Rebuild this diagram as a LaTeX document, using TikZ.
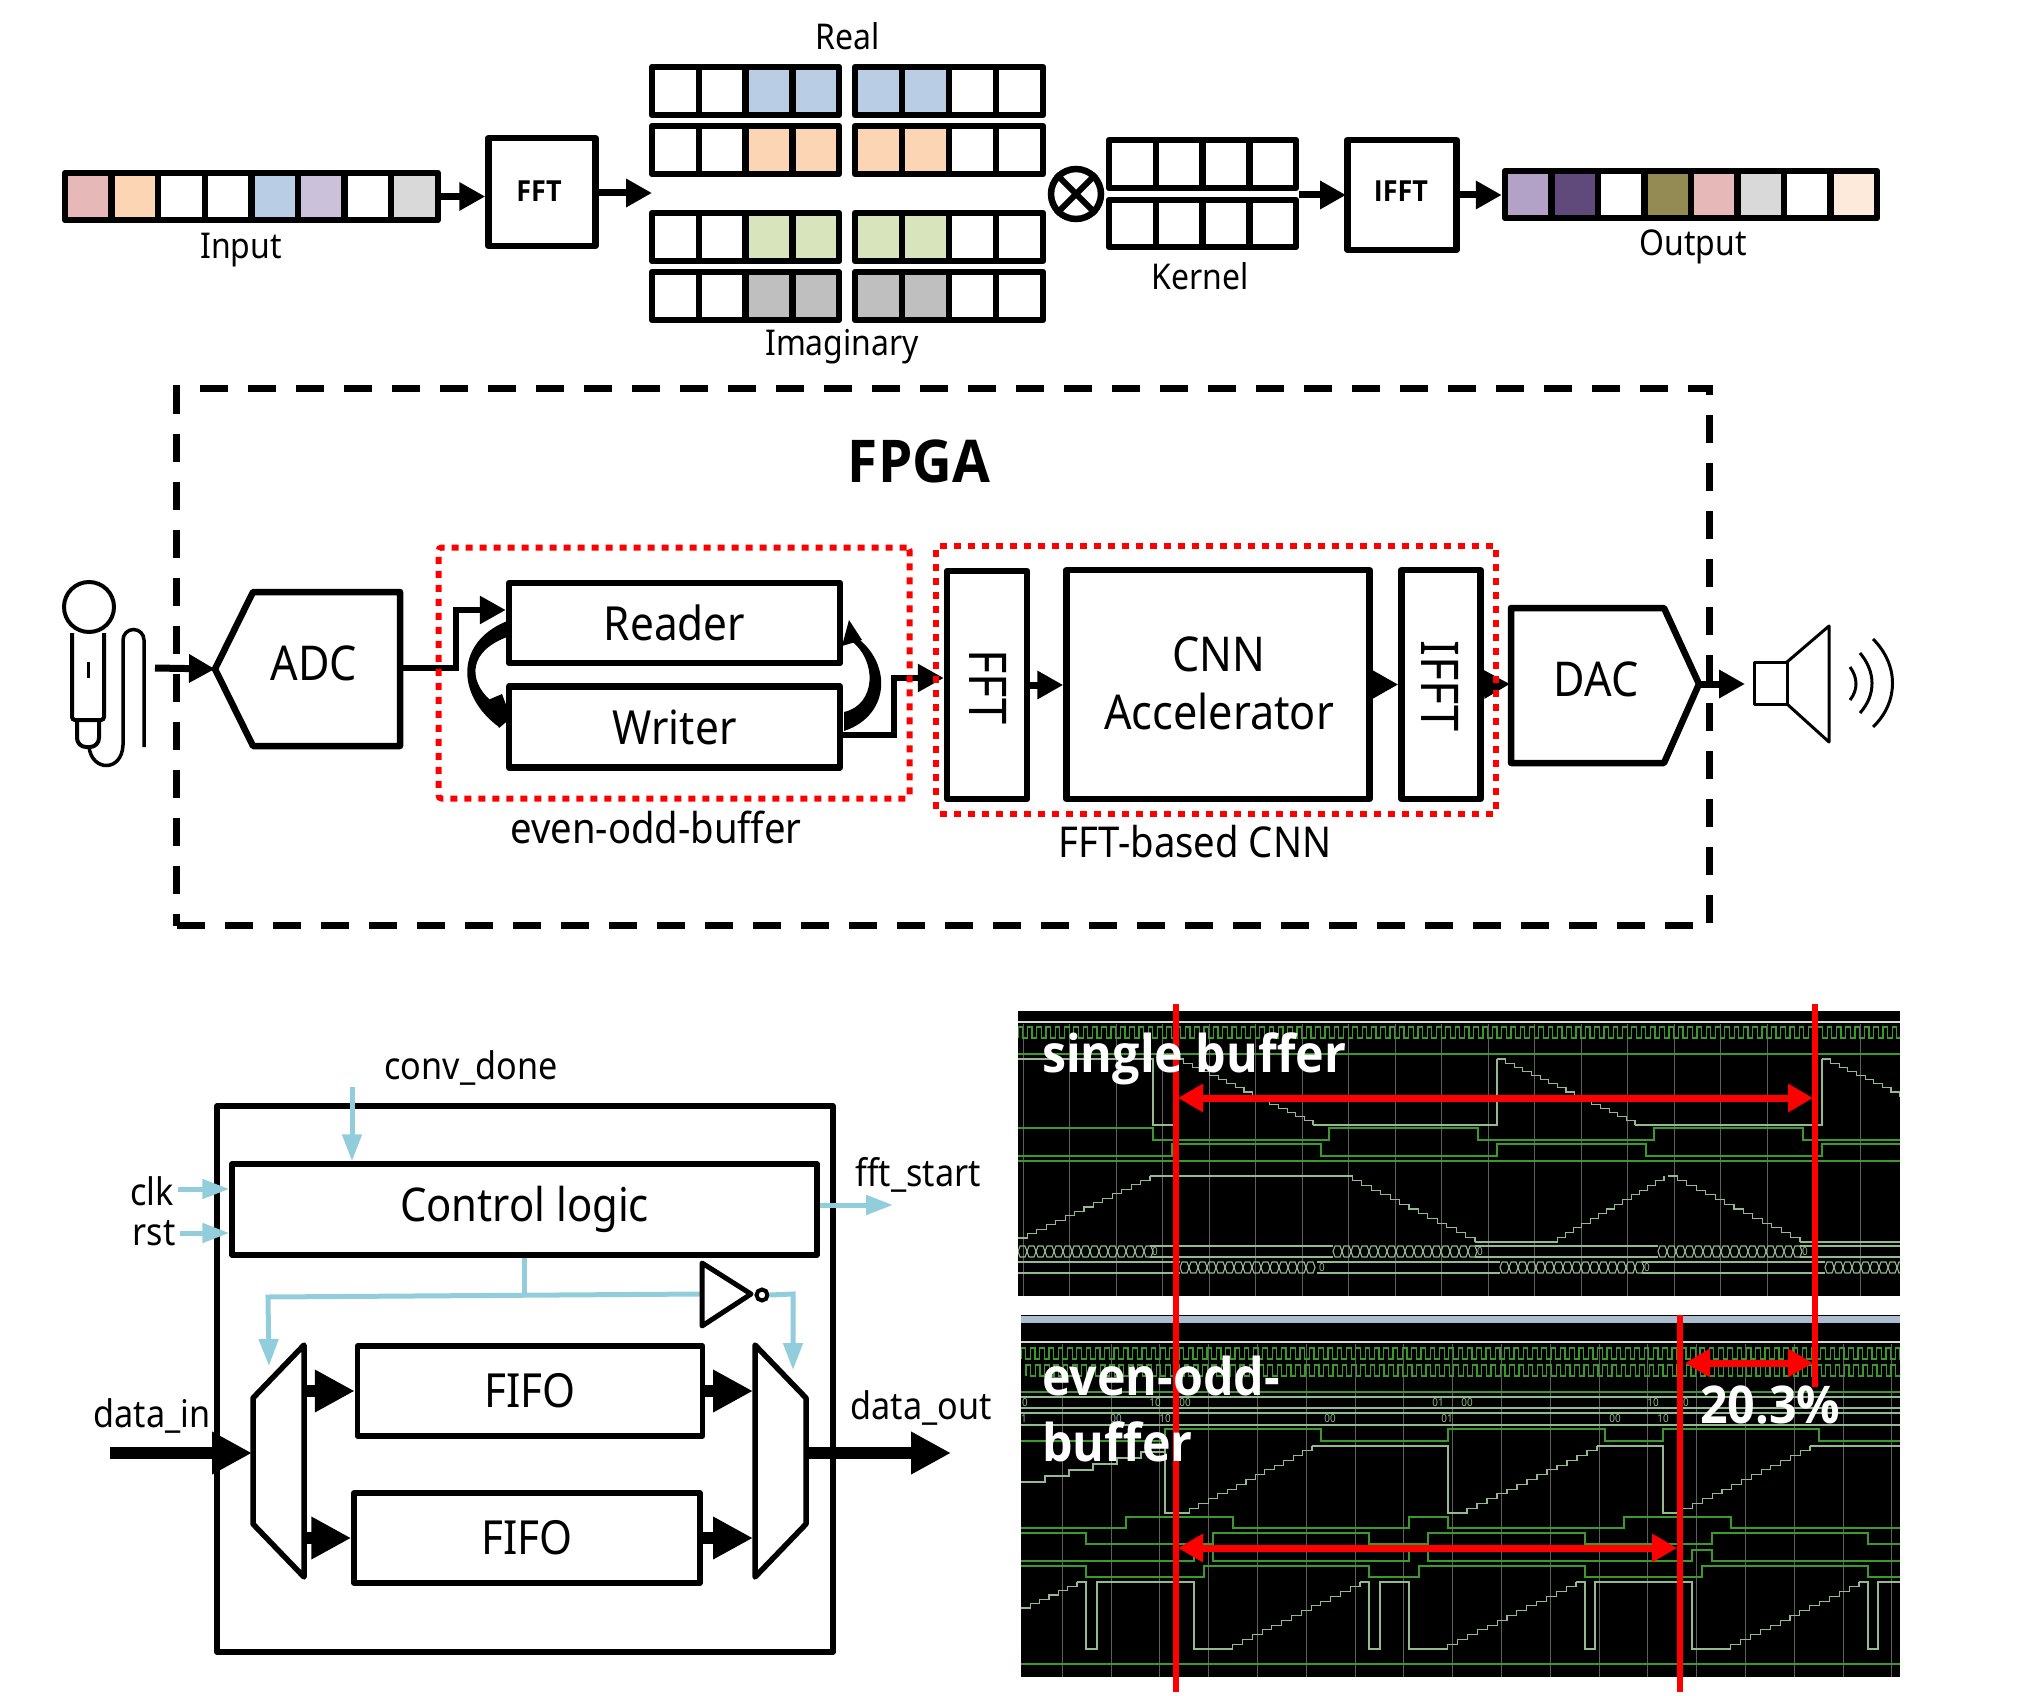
\documentclass[tikz,border=0pt]{standalone}
\usepackage{fontspec}
\setmainfont[FakeStretch=0.9]{Noto Sans}
\newfontfamily\heavyfont[FakeStretch=0.93]{Open Sans}
\usetikzlibrary{arrows.meta}

\definecolor{cpink}{HTML}{E6B8B7}
\definecolor{corange}{HTML}{FCD5B5}
\definecolor{cblue}{HTML}{B9CDE5}
\definecolor{cpurple}{HTML}{CCC1DA}
\definecolor{cgray}{HTML}{D9D9D9}
\definecolor{cgreen}{HTML}{D7E4BC}
\definecolor{cdark}{HTML}{BFBFBF}
\definecolor{clav}{HTML}{B3A2C7}
\definecolor{cplum}{HTML}{604A7B}
\definecolor{colive}{HTML}{948A54}
\definecolor{cpeach}{HTML}{FDEADA}
\definecolor{ctrlblue}{HTML}{92CDDC}
\definecolor{wavegreen}{HTML}{3A9A2A}
\definecolor{wavepale}{HTML}{94BA90}
\definecolor{wavegrid}{HTML}{5E5E5E}

\tikzset{
    cell/.style={draw, line width=6.5pt, line join=round, minimum width=#1, inner sep=0pt},
    boxnode/.style={draw, line width=6.5pt, line join=round, inner sep=0pt, align=center},
    thinbox/.style={draw, line width=5.5pt, line join=round, inner sep=0pt, align=center},
    lbl/.style={inner sep=0pt, font=\fontsize{35.5}{40}\selectfont},
    wide/.style={inner sep=0pt, font=\fontsize{42.5}{48}\selectfont},
    port/.style={inner sep=0pt, font=\fontsize{38}{44}\selectfont},
    boxtxt/.style={inner sep=0pt, align=center, font=\fontsize{48}{58}\selectfont},
    fifotxt/.style={font=\fontsize{47}{50}\selectfont},
    fftbold/.style={inner sep=0pt, font=\heavyfont\bfseries\fontsize{29}{34}\selectfont},
    wavetxt/.style={inner sep=0pt, anchor=base west, text=white, font=\heavyfont\bfseries\fontsize{52}{60}\selectfont},
    bustxt/.style={inner sep=0pt, text=wavepale, font=\fontsize{11}{12}\selectfont},
    redbox/.style={draw=red, line width=6pt, dash pattern=on 7pt off 7pt, rounded corners=3pt, inner sep=0pt},
    sig/.style={->, line width=7pt, -{Triangle[length=26pt,width=27pt]}},
    fatsig/.style={line width=12pt, -{Triangle[length=40pt,width=40pt]}},
    ctrlsig/.style={draw=ctrlblue, line width=5pt, -{Triangle[length=27pt,width=19pt]}},
    redsig/.style={draw=red, line width=7pt, {Triangle[length=25pt,width=27pt]}-{Triangle[length=25pt,width=27pt]}},
    redline/.style={draw=red, line width=6.5pt},
    gwave/.style={draw=wavegreen, line width=1.2pt},
    pwave/.style={draw=wavepale, line width=1.1pt},
    gridline/.style={draw=wavegrid, line width=1.1pt}
}

% row of cells, name x0 y cell-width cell-height colors
\newcommand{\cellrow}[6]{
    \foreach \c [count=\i from 0] in {#6}
        \node[cell=#4pt, minimum height=#5pt, fill=\c] (#1-\i) at ({#2+(\i+0.5)*#4},#3) {};
}
% stairs x1 y1 x2 y2 steps
\newcommand{\stairs}[5]{
    \draw[pwave] (#1,#2) \foreach \k in {1,...,#5} {-- ++({(#3-#1)/#5},0) -- ++(0,{(#4-#2)/#5})};
}
% clock x1 ylow periods
\newcommand{\clockwave}[3]{
    \draw[gwave] (#1,#2) \foreach \k in {1,...,#3} {-- ++(0,-11) -- ++(4.65,0) -- ++(0,11) -- ++(4.65,0)};
}
% bus cells x1 ytop ybot cells
\newcommand{\buscells}[4]{
    \foreach \k in {1,...,#4} {
        \draw[pwave] ({#1+(\k-1)*9},{(#2+#3)/2}) -- ({#1+(\k-1)*9+2},#2) -- ({#1+\k*9-2},#2) -- ({#1+\k*9},{(#2+#3)/2}) -- ({#1+\k*9-2},#3) -- ({#1+(\k-1)*9+2},#3) -- cycle;
    }
}

\begin{document}
\begin{tikzpicture}[x=1pt, y=-1pt]
        \useasboundingbox (0,0) rectangle (2037,1696);

        %top row
        \cellrow{input}{65}{196.5}{46.6}{47}{cpink,corange,white,white,cblue,cpurple,white,cgray}
        \node[boxnode, minimum width=107pt, minimum height=108pt] (fftA) at (542,192) {};
        \node[fftbold] (fftAtxt) at (539,191) {FFT};
        \cellrow{reA}{652}{91}{46.75}{48}{white,white,cblue,cblue}
        \cellrow{reB}{855}{91}{47}{48}{cblue,cblue,white,white}
        \cellrow{reC}{652}{150}{46.75}{48}{white,white,corange,corange}
        \cellrow{reD}{855}{150}{47}{48}{corange,corange,white,white}
        \cellrow{imA}{652}{237}{46.75}{48}{white,white,cgreen,cgreen}
        \cellrow{imB}{855}{237}{47}{48}{cgreen,cgreen,white,white}
        \cellrow{imC}{652}{296}{46.75}{48}{white,white,cdark,cdark}
        \cellrow{imD}{855}{296}{47}{48}{cdark,cdark,white,white}
        \node[circle, draw, line width=6.5pt, minimum size=50pt, inner sep=0pt] (mult) at (1076,194) {};
        \draw[line width=6pt] (mult.45) -- (mult.225);
        \draw[line width=6pt] (mult.135) -- (mult.315);
        \cellrow{kerA}{1109}{164}{46.75}{48}{white,white,white,white}
        \cellrow{kerB}{1109}{223.5}{46.75}{47}{white,white,white,white}
        \node[boxnode, minimum width=109pt, minimum height=110pt] (ifftA) at (1402,195) {};
        \node[fftbold] (ifftAtxt) at (1401,191) {IFFT};
        \cellrow{output}{1505}{194.5}{46.5}{47}{clav,cplum,white,colive,cpink,cgray,white,cpeach}

        \node[lbl] (realtxt) at (848,36) {Real};
        \node[lbl] (imagtxt) at (842,347) {Imaginary};
        \node[lbl] (inputtxt) at (241,250) {Input};
        \node[lbl] (outputtxt) at (1693,247) {Output};
        \node[lbl] (kerneltxt) at (1200,276) {Kernel};

        %top edges
        \coordinate (fftAout) at (652,193);
        \coordinate (kerout) at (1299,195);
        \coordinate (ifftAin) at (1346,195);
        \draw[sig] (input-7.east) -- (input-7.east -| fftA.west);
        \draw[sig] (fftAout -| fftA.east) -- (fftAout);
        \draw[sig] (kerout) -- (ifftAin);
        \draw[sig] (ifftAin -| ifftA.east) -- (ifftAin -| output-0.west);

        %fpga frame
        \node[draw, line width=6.5pt, dash pattern=on 28pt off 20pt, minimum width=1533pt, minimum height=537pt, inner sep=0pt] (fpga) at (943,657) {};
        \node[inner sep=0pt, font=\heavyfont\bfseries\fontsize{59}{60}\selectfont] (fpgatxt) at (919,461) {FPGA};

        %mic
        \node[circle, draw, line width=4pt, minimum size=50pt, inner sep=0pt] (mic) at (89,607) {};
        \draw[line width=4pt, rounded corners=3pt] (72,633) -- (72,720) -- (104,720) -- (104,633);
        \draw[line width=4pt, rounded corners=9pt] (77,720) -- (77,747) -- (99,747) -- (99,720);
        \draw[line width=3pt] (88,662) -- (88,678);
        \draw[line width=3.5pt] (89,747) .. controls (92,772) and (122,772) .. (123,745) -- (123,640) arc (180:360:10.5) -- (144,747);

        %speaker
        \coordinate (spkin) at (1745,684);
        \draw[line width=3pt, line join=round] (1754,662) rectangle (1787,704);
        \draw[line width=3pt, line join=round] (1787,662) -- (1829,626) -- (1829,742) -- (1787,704);
        \draw[line width=3pt] (1850,667) .. controls (1858,678) and (1858,690) .. (1850,700);
        \draw[line width=3pt] (1860,653) .. controls (1876,672) and (1876,695) .. (1860,713);
        \draw[line width=3pt] (1873,639) .. controls (1899,665) and (1899,702) .. (1873,727);

        %adc dac
        \coordinate (adcin) at (215,669);
        \coordinate (adcout) at (400,668);
        \draw[fill=white, line width=6.5pt, line join=round] (adcin) -- (253,592) -- (400,592) -- (400,746) -- (253,746) -- cycle;
        \node[boxtxt] (adctxt) at (314,663) {ADC};
        \coordinate (dacin) at (1510,684);
        \coordinate (dacout) at (1700,684);
        \draw[fill=white, line width=6.5pt, line join=round] (1511,608) -- (1664,608) -- (1699,684) -- (1664,763) -- (1511,763) -- cycle;
        \node[boxtxt] (dactxt) at (1596,679) {DAC};

        %buffer
        \node[boxnode, minimum width=331pt, minimum height=80pt, font=\fontsize{47}{58}\selectfont] (reader) at (674.5,623) {Reader};
        \node[boxnode, minimum width=331pt, minimum height=81pt, font=\fontsize{47}{58}\selectfont] (writer) at (674.5,727) {Writer};

        %fft cnn ifft
        \node[boxnode, minimum width=80pt, minimum height=228pt] (fftB) at (987,685) {};
        \node[boxtxt, rotate=-90, font=\fontsize{52}{58}\selectfont] (fftBtxt) at (988,687) {FFT};
        \node[boxnode, minimum width=303pt, minimum height=229pt] (cnn) at (1218,684.5) {};
        \node[boxtxt] (cnntxt) at (1219,683) {CNN\\Accelerator};
        \node[boxnode, minimum width=79pt, minimum height=229pt] (ifftB) at (1441,684.5) {};
        \node[boxtxt, rotate=-90, font=\fontsize{52}{58}\selectfont] (ifftBtxt) at (1440,686) {IFFT};

        %fpga edges
        \coordinate (micout) at (155,668);
        \coordinate (wrout) at (842,735);
        \coordinate (bufjog) at (894,678);
        \coordinate (rdjog) at (456,610);
        \draw[sig] (micout) -- (adcin);
        \draw[line width=6pt, -{Triangle[length=26pt,width=27pt]}] (adcout) -- (adcout -| rdjog) -- (rdjog) -- (rdjog -| reader.west);
        \draw[line width=6pt, -{Triangle[length=26pt,width=27pt]}] (wrout) -- (wrout -| bufjog) -- (bufjog) -- (bufjog -| fftB.west);
        \draw[sig] (fftB.east) -- (fftB.east -| cnn.west);
        \draw[sig] (cnn.east) -- (cnn.east -| ifftB.west);
        \draw[sig] (ifftB.east) -- (dacin);
        \draw[sig] (dacout) -- (spkin);

        %feedback curves
        \fill (510,620) .. controls (455,640) and (455,695) .. (499,727) -- (490,700) .. controls (468,680) and (468,650) .. (510,636) -- cycle;
        \fill (511,718) -- (499,728) -- (488,700) -- (502,694) -- cycle;
        \fill (844,731) .. controls (892,715) and (892,660) .. (853,635) -- (850,640) .. controls (878,660) and (876,705) .. (844,712) -- cycle;
        \fill (849,620) -- (842,646) -- (862,640) -- cycle;

        %red boxes
        \node[redbox, minimum width=471pt, minimum height=251pt] (evenodd) at (674,673) {};
        \node[redbox, minimum width=560pt, minimum height=268pt] (fftcnn) at (1216,680) {};
        \node[wide] (evenoddtxt) at (656,827) {even-odd-buffer};
        \node[wide] (fftcnntxt) at (1195,842) {FFT-based CNN};

        %fifo block
        \node[thinbox, minimum width=616pt, minimum height=546pt] (outer) at (525,1379) {};
        \node[thinbox, minimum width=585pt, minimum height=91pt, font=\fontsize{46.5}{50}\selectfont] (ctrl) at (524.5,1209.5) {Control logic};
        \node[thinbox, minimum width=345pt, minimum height=90pt, fifotxt] (fifoA) at (530,1391) {FIFO};
        \node[thinbox, minimum width=346pt, minimum height=90pt, fifotxt] (fifoB) at (527,1538) {FIFO};
        \draw[line width=5.5pt, line join=round, fill=white] (304,1345) -- (304,1577) -- (253,1524) -- (253,1398) -- cycle;
        \draw[line width=5.5pt, line join=round, fill=white] (755,1345) -- (755,1577) -- (806,1524) -- (806,1398) -- cycle;
        \coordinate (muxAin) at (252,1453);
        \coordinate (muxBout) at (808,1453);

        %fifo edges
        \coordinate (datain) at (110,1453);
        \coordinate (dataout) at (951,1453);
        \draw[fatsig] (datain) -- (muxAin);
        \draw[fatsig] (muxBout) -- (dataout);
        \draw[fatsig] (fifoA.west -| 306,0) -- (fifoA.west);
        \draw[fatsig] (fifoB.west -| 306,0) -- (fifoB.west);
        \draw[fatsig] (fifoA.east) -- (fifoA.east -| 753,0);
        \draw[fatsig] (fifoB.east) -- (fifoB.east -| 753,0);

        %control edges
        \coordinate (convin) at (352,1087);
        \coordinate (clkin) at (178,1189);
        \coordinate (rstin) at (180,1233);
        \coordinate (fftout) at (893,1205);
        \coordinate (busl) at (268,1297);
        \coordinate (busr) at (702,1294);
        \coordinate (muxAsel) at (269,1366);
        \coordinate (muxBsel) at (793,1370);
        \coordinate (invturn) at (793,1294);
        \draw[ctrlsig] (convin) -- (convin |- ctrl.north);
        \draw[ctrlsig] (clkin) -- (clkin -| ctrl.west);
        \draw[ctrlsig] (rstin) -- (rstin -| ctrl.west);
        \draw[ctrlsig] (fftout -| ctrl.east) -- (fftout);
        \draw[draw=ctrlblue, line width=5pt] (ctrl.south) -- (ctrl.south |- busr);
        \draw[ctrlsig] (busr) -- (busl) -- (muxAsel);
        \draw[black, line width=5pt, line join=round, fill=white] (702,1263) -- (702,1326) -- (751,1294) -- cycle;
        \node[circle, draw, line width=4pt, minimum size=11pt, inner sep=0pt] (invbub) at (762,1295) {};
        \draw[ctrlsig] (invbub.east) -- (invturn) -- (muxBsel);

        \node[port] (convtxt) at (471,1068) {conv\_done};
        \node[port] (clktxt) at (152,1191) {clk};
        \node[port] (rsttxt) at (154,1233) {rst};
        \node[port] (ffttxt) at (918,1175) {fft\_start};
        \node[port] (dinxt) at (152,1416) {data\_in};
        \node[port] (douttxt) at (921,1408) {data\_out};

        %wave panel single
        \begin{scope}
            \clip (1018,1011) rectangle (1900,1296);
            \fill[black] (1018,1011) rectangle (1900,1296);
            \draw[draw=white!85!black, line width=2pt] (1018,1022) -- (1900,1022);
            \foreach \n in {0,...,18}
                \draw[gridline] ({1023.3+46.5*\n},1024) -- ({1023.3+46.5*\n},1296);
            \clockwave{1018}{1038}{95}
            \draw[gwave] (1018,1054) -- (1900,1054);
            \draw[gwave] (1018,1161) -- (1900,1161);
            \draw[gwave] (1018,1128) -| (1153,1140) -| (1329,1128) -| (1478,1140) -| (1654,1128) -| (1803,1140) -- (1900,1140);
            \draw[gwave] (1018,1156) -| (1172,1144) -| (1321,1156) -| (1497,1144) -| (1646,1156) -| (1822,1144) -- (1900,1144);
            \draw[pwave] (1018,1059) -- (1153,1059) -- (1153,1125) -- (1175,1125) -- (1175,1059);
            \draw[pwave] (1313,1125) -- (1497,1125) -- (1497,1059);
            \draw[pwave] (1635,1125) -- (1822,1125) -- (1822,1059);
            \stairs{1175}{1059}{1313}{1125}{16}
            \stairs{1497}{1059}{1635}{1125}{16}
            \stairs{1822}{1059}{1960}{1125}{16}
            \stairs{1018}{1238}{1150}{1176}{14}
            \stairs{1343}{1176}{1475}{1242}{14}
            \stairs{1549}{1242}{1664}{1176}{14}
            \stairs{1668}{1176}{1800}{1242}{14}
            \draw[pwave] (1150,1176) -- (1343,1176);
            \draw[pwave] (1475,1242) -- (1549,1242);
            \draw[pwave] (1800,1242) -- (1900,1242);
            \foreach \a/\b in {1150/1333,1475/1658,1800/1900} {
                \draw[pwave] (\a,1246) -- (\b,1246);
                \draw[pwave] (\a,1257) -- (\b,1257);
            }
            \foreach \a/\b in {1018/1180,1317/1500,1642/1825} {
                \draw[pwave] (\a,1262) -- (\b,1262);
                \draw[pwave] (\a,1273) -- (\b,1273);
            }
            \buscells{1018}{1246}{1257}{15}
            \buscells{1333}{1246}{1257}{16}
            \buscells{1658}{1246}{1257}{16}
            \buscells{1180}{1262}{1273}{15}
            \buscells{1500}{1262}{1273}{16}
            \buscells{1825}{1262}{1273}{9}
            \foreach \a in {1155,1480,1805}
                \node[bustxt] at (\a,1252) {0};
            \foreach \a in {1322,1647}
                \node[bustxt] at (\a,1268) {0};
        \end{scope}

        %wave panel even odd
        \begin{scope}
            \clip (1021,1315) rectangle (1900,1677);
            \fill[black] (1021,1315) rectangle (1900,1677);
            \fill[fill=cblue!80!gray] (1021,1316) rectangle (1900,1323);
            \draw[draw=white!85!black, line width=2pt] (1021,1342) -- (1900,1342);
            \foreach \n in {-1,...,17}
                \draw[gridline] ({1062.3+48.8*\n},1344) -- ({1062.3+48.8*\n},1677);
            \clockwave{1021}{1359}{95}
            \clockwave{1026}{1376}{95}
            \draw[gwave] (1021,1392) -- (1900,1392);
            \draw[gwave] (1021,1664) -- (1900,1664);
            \foreach \y in {1397,1408}
                \draw[pwave] (1021,\y) -- (1900,\y);
            \foreach \y in {1413,1425}
                \draw[pwave] (1021,\y) -- (1900,\y);
            \foreach \a/\t in {1025/0,1155/10,1185/00,1438/01,1467/00,1653/10,1683/00}
                \node[bustxt] at (\a,1403) {\t};
            \foreach \a/\t in {1024/1,1116/00,1165/10,1330/00,1447/01,1615/00,1663/10}
                \node[bustxt] at (\a,1419) {\t};
            \draw[gwave] (1021,1441) -| (1165,1429) -| (1321,1441) -| (1448,1429) -| (1605,1441) -| (1663,1429) -| (1819,1441) -- (1900,1441);
            \draw[gwave] (1021,1528) -| (1126,1517) -| (1233,1528) -| (1409,1517) -| (1448,1528) -| (1624,1517) -| (1731,1528) -- (1900,1528);
            \draw[gwave] (1021,1533) -| (1086,1544) -| (1213,1533) -| (1369,1544) -| (1428,1533) -| (1585,1544) -| (1712,1533) -| (1868,1544) -- (1900,1544);
            \draw[gwave] (1021,1561) -| (1194,1550) -| (1213,1561) -| (1409,1550) -| (1428,1561) -| (1692,1550) -| (1712,1561) -- (1900,1561);
            \draw[gwave] (1021,1566) -| (1086,1577) -| (1204,1566) -| (1369,1577) -| (1419,1566) -| (1585,1577) -| (1702,1566) -| (1868,1577) -- (1900,1577);
            \stairs{1021}{1482}{1165}{1446}{6}
            \draw[pwave] (1165,1446) -- (1165,1513) -- (1180,1513);
            \stairs{1180}{1513}{1312}{1446}{14}
            \draw[pwave] (1312,1446) -- (1448,1446) -- (1448,1513) -- (1457,1513);
            \stairs{1457}{1513}{1597}{1446}{14}
            \draw[pwave] (1597,1446) -- (1663,1446) -- (1663,1513) -- (1673,1513);
            \stairs{1673}{1513}{1810}{1446}{14}
            \draw[pwave] (1810,1446) -- (1900,1446);
            \stairs{1021}{1608}{1077}{1582}{6}
            \draw[pwave] (1077,1582) -- (1086,1582) -- (1086,1649) -- (1097,1649) -- (1097,1582) -- (1194,1582) -- (1194,1649) -- (1223,1649);
            \stairs{1223}{1649}{1360}{1582}{14}
            \draw[pwave] (1360,1582) -- (1369,1582) -- (1369,1649) -- (1380,1649) -- (1380,1582) -- (1409,1582) -- (1409,1649) -- (1438,1649);
            \stairs{1438}{1649}{1576}{1582}{14}
            \draw[pwave] (1576,1582) -- (1585,1582) -- (1585,1649) -- (1595,1649) -- (1595,1582) -- (1692,1582) -- (1692,1649) -- (1721,1649);
            \stairs{1721}{1649}{1859}{1582}{14}
            \draw[pwave] (1859,1582) -- (1868,1582) -- (1868,1649) -- (1878,1649) -- (1878,1582) -- (1900,1582);
        \end{scope}

        %red markers
        \coordinate (markAtop) at (1176,1004);
        \coordinate (markAbot) at (1176,1692);
        \coordinate (markBtop) at (1815,1004);
        \coordinate (markBbot) at (1815,1387);
        \coordinate (markCtop) at (1680,1315);
        \coordinate (markCbot) at (1680,1692);
        \draw[redline] (markAtop) -- (markAbot);
        \draw[redline] (markBtop) -- (markBbot);
        \draw[redline] (markCtop) -- (markCbot);
        \coordinate (spanAl) at (1178,1098);
        \coordinate (spanAr) at (1813,1098);
        \coordinate (spanBl) at (1178,1548);
        \coordinate (spanBr) at (1677,1548);
        \coordinate (spanCl) at (1685,1363);
        \coordinate (spanCr) at (1813,1363);
        \draw[redsig] (spanAl) -- (spanAr);
        \draw[redsig] (spanBl) -- (spanBr);
        \draw[redsig] (spanCl) -- (spanCr);

        \node[wavetxt] (singletxt) at (1042,1072) {single buffer};
        \node[wavetxt] (eveAtxt) at (1042,1395) {even-odd-};
        \node[wavetxt] (eveBtxt) at (1042,1461) {buffer};
        \node[wavetxt] (pcttxt) at (1700,1423) {20.3\%};
    \end{tikzpicture}
\end{document}
